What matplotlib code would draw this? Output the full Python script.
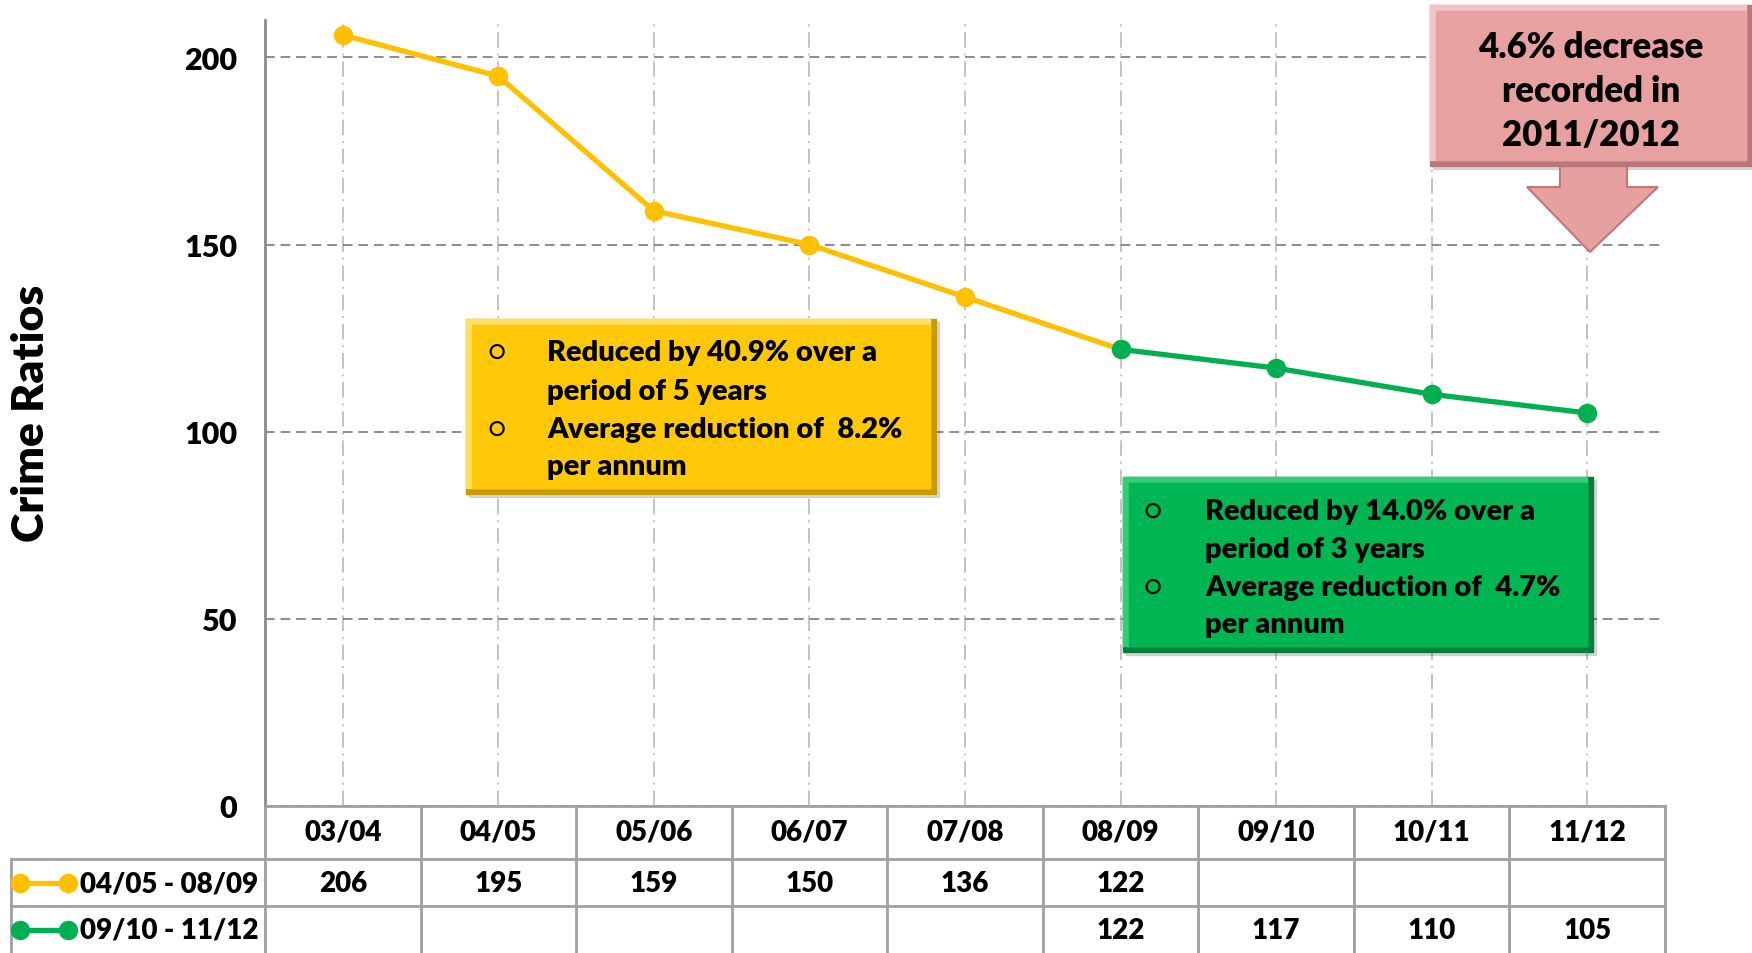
import matplotlib
matplotlib.use("Agg")
import matplotlib.pyplot as plt
from matplotlib.patches import Rectangle, Polygon

plt.rcParams['font.family'] = ['Lato', 'DejaVu Sans']
plt.rcParams['font.weight'] = 'heavy'

# data
years = ["03/04", "04/05", "05/06", "06/07", "07/08", "08/09", "09/10", "10/11", "11/12"]
first_label = "04/05 - 08/09"
first_idx = [0, 1, 2, 3, 4, 5]
first_vals = [206, 195, 159, 150, 136, 122]
second_label = "09/10 - 11/12"
second_idx = [5, 6, 7, 8]
second_vals = [122, 117, 110, 105]
y_ticks = [0, 50, 100, 150, 200]

YELLOW = '#FFC000'
GREEN = '#00B050'
GRID = '#8C8C8C'

W, H = 1752, 954
fig = plt.figure(figsize=(W / 100, H / 100), dpi=100)


def fx(x):
    return x / W


def fy(y):
    return 1 - y / H


# main chart
ax = fig.add_axes([fx(265), fy(807), (1665 - 265) / W, (807 - 21) / H])
ax.plot(first_idx, first_vals, color=YELLOW, lw=3.8, marker='o', ms=13, zorder=3)
ax.plot(second_idx, second_vals, color=GREEN, lw=3.8, marker='o', ms=13, zorder=3)
ax.set_xlim(-0.5, len(years) - 0.5)
ax.set_ylim(0, 210)
ax.set_yticks(y_ticks)
ax.set_xticks(range(len(years)))
ax.set_xticklabels([])
ax.yaxis.grid(True, linestyle=(0, (5, 3)), color=GRID, lw=1.4)
ax.xaxis.grid(True, linestyle=(0, (8, 3, 1, 3)), color='#C4C4C4', lw=1.4)
ax.tick_params(length=0, labelsize=22, pad=20)
for s in ['top', 'right']:
    ax.spines[s].set_visible(False)
ax.spines['left'].set_color(GRID)
ax.spines['left'].set_linewidth(2)
ax.spines['bottom'].set_color('#A0A0A0')
ax.spines['bottom'].set_linewidth(2)
fig.text(fx(31), fy(413), "Crime Ratios", rotation=90, ha='center', va='center',
         fontsize=32)

# data table under the chart, y in image pixel rows
tax = fig.add_axes([fx(265), 0, 1400 / W, fy(807)])
tax.set_xlim(-0.5, len(years) - 0.5)
tax.set_ylim(954, 807)
tax.axis('off')
col_w = 1400 / len(years)


def px2x(p):
    return (p - 265) / col_w - 0.5


line_kw = dict(color='#A0A0A0', lw=2, clip_on=False)
for i in range(len(years) + 1):
    tax.plot([i - 0.5, i - 0.5], [807, 954], **line_kw)
for yy in [860, 907]:
    tax.plot([px2x(11), len(years) - 0.5], [yy, yy], **line_kw)
tax.plot([px2x(11), px2x(11)], [860, 954], **line_kw)

for i, lab in enumerate(years):
    tax.text(i, 833, lab, ha='center', va='center', fontsize=20)
for i, v in zip(first_idx, first_vals):
    tax.text(i, 884, str(v), ha='center', va='center', fontsize=20)
for i, v in zip(second_idx, second_vals):
    tax.text(i, 931, str(v), ha='center', va='center', fontsize=20)

for yy, lab, col in [(884, first_label, YELLOW), (931, second_label, GREEN)]:
    tax.plot([px2x(20), px2x(68)], [yy, yy], color=col, lw=3.8, marker='o', ms=13,
             clip_on=False)
    tax.text(px2x(258), yy, lab, ha='right', va='center', fontsize=20)


# callout boxes
def bevel_box(x0, y0, x1, y1, face, dark, light):
    fig.patches.append(Rectangle((fx(x0 + 3), fy(y1 + 3)), (x1 - x0) / W, (y1 - y0) / H,
                                 transform=fig.transFigure, color='#00000022', zorder=4))
    fig.patches.append(Rectangle((fx(x0), fy(y1)), (x1 - x0) / W, (y1 - y0) / H,
                                 transform=fig.transFigure, color=dark, zorder=5))
    fig.patches.append(Rectangle((fx(x0), fy(y1 - 6)), (x1 - x0 - 6) / W, (y1 - y0 - 6) / H,
                                 transform=fig.transFigure, color=light, zorder=5))
    fig.patches.append(Rectangle((fx(x0 + 6), fy(y1 - 6)), (x1 - x0 - 12) / W, (y1 - y0 - 12) / H,
                                 transform=fig.transFigure, color=face, zorder=6))


def bullets(x_b, x_t, ys, lines):
    for k, (yy, t) in enumerate(zip(ys, lines)):
        if k % 2 == 0:
            fig.text(fx(x_b), fy(yy), "\u25cb", ha='center', va='center', fontsize=20,
                     fontweight='normal', zorder=7)
        fig.text(fx(x_t), fy(yy), t, ha='left', va='center', fontsize=21, zorder=7)


bevel_box(466, 320, 936, 495, '#FFC90A', '#C99A00', '#FFE066')
bullets(497, 547, [353, 392, 430, 467],
        ["Reduced by 40.9% over a", "period of 5 years",
         "Average reduction of  8.2%", "per annum"])

bevel_box(1123, 478, 1593, 653, '#00B652', '#007F38', '#33CC77')
bullets(1153, 1205, [512, 550, 588, 625],
        ["Reduced by 14.0% over a", "period of 3 years",
         "Average reduction of  4.7%", "per annum"])

# pink arrow callout
arrow = [(1560, 160), (1627, 160), (1627, 188), (1658, 188), (1590, 253),
         (1527, 188), (1560, 188)]
fig.patches.append(Polygon([(fx(x), fy(y)) for x, y in arrow], closed=True,
                           transform=fig.transFigure, facecolor='#E6A0A0',
                           edgecolor='#C07878', lw=1.5, zorder=5))
bevel_box(1430, 6, 1752, 167, '#E6A1A0', '#B87878', '#F2C4C4')
for yy, t in zip([48, 92, 136], ["4.6% decrease", "recorded in", "2011/2012"]):
    fig.text(fx(1591), fy(yy), t, ha='center', va='center', fontsize=25, zorder=7)

fig.savefig("out.png", dpi=100)
